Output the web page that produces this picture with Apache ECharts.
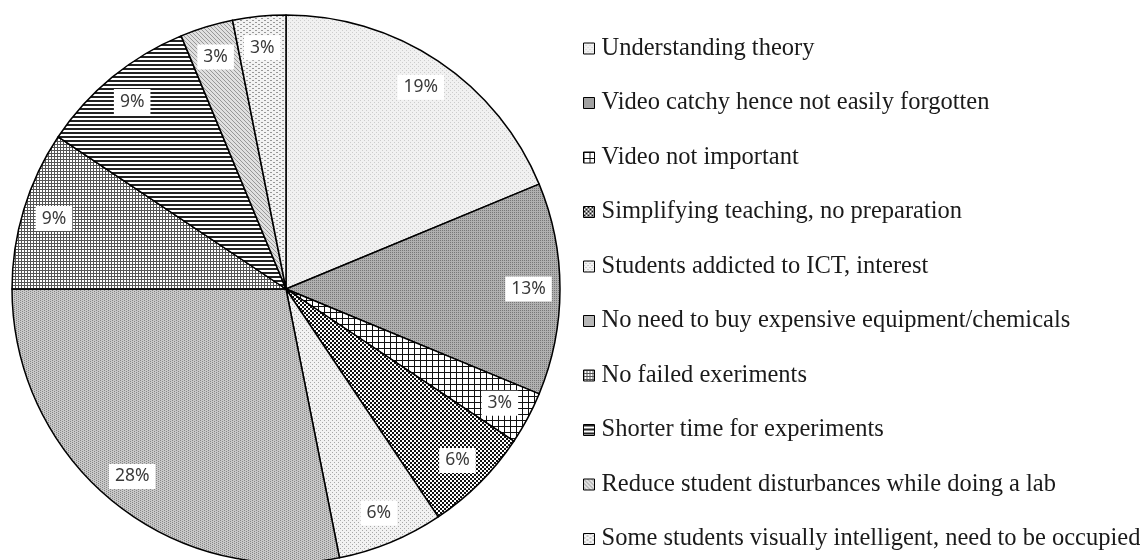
<!DOCTYPE html>
<html>
<head>
<meta charset="utf-8">
<script src="https://cdn.jsdelivr.net/npm/echarts@6/dist/echarts.min.js"></script>
<style>
  html, body { margin: 0; padding: 0; background: #fff; }
  #chart { width: 1140px; height: 560px; }
</style>
</head>
<body>
<div id="chart"></div>
<script>
// answers (counts of respondents, 32 in total)
var categories = [
    'Understanding theory',
    'Video catchy hence not easily forgotten',
    'Video not important',
    'Simplifying teaching, no preparation',
    'Students addicted to ICT, interest',
    'No need to buy expensive equipment/chemicals',
    'No failed exeriments',
    'Shorter time for experiments',
    'Reduce student disturbances while doing a lab',
    'Some students visually intelligent, need to be occupied'
];
var counts = [6, 4, 1, 2, 2, 9, 3, 3, 1, 1];

var total = counts.reduce(function(a, b) { return a + b; }, 0);

// small canvas tiles used as fill patterns (the original is grayscale hatched)
function tile(w, h, bg, draw) {
    var c = document.createElement('canvas');
    c.width = w;
    c.height = h;
    var g = c.getContext('2d');
    g.fillStyle = bg;
    g.fillRect(0, 0, w, h);
    draw(g);
    return { image: c, repeat: 'repeat' };
}
function px(g, col, pts) {
    g.fillStyle = col;
    pts.forEach(function(p) { g.fillRect(p[0], p[1], p[2] || 1, p[3] || 1); });
}

var patterns = [
    tile(4, 4, '#f1f1f1', function(g) { px(g, '#cccccc', [[0, 0], [2, 2]]); }),
    tile(2, 2, '#b0b0b0', function(g) { px(g, '#777777', [[0, 0]]); }),
    tile(6, 6, '#ffffff', function(g) { px(g, '#111', [[0, 0, 6, 1], [0, 0, 1, 6]]); }),
    tile(4, 4, '#ffffff', function(g) { px(g, '#111', [[0, 0, 2, 2], [2, 2, 2, 2]]); }),
    tile(4, 4, '#f2f2f2', function(g) { px(g, '#a8a8a8', [[0, 0], [2, 2]]); }),
    tile(4, 2, '#c8c8c8', function(g) { px(g, '#868686', [[0, 0], [2, 1]]); }),
    tile(3, 3, '#ffffff', function(g) { px(g, '#555', [[0, 0, 3, 1], [0, 0, 1, 3]]); }),
    tile(4, 4, '#ffffff', function(g) { px(g, '#222', [[0, 0, 4, 2]]); }),
    tile(4, 4, '#e0e0e0', function(g) { px(g, '#989898', [[0, 0], [1, 1], [2, 2], [3, 3]]); }),
    tile(6, 4, '#f3f3f3', function(g) { px(g, '#999', [[0, 0, 2, 1], [3, 2, 2, 1]]); })
];

var pieData = categories.map(function(name, i) {
    return { name: name, value: counts[i], itemStyle: { color: patterns[i] } };
});
var labelData = categories.map(function(name, i) {
    return { name: name, value: counts[i] };
});

var myChart = echarts.init(document.getElementById('chart'));

var option = {
    animation: false,
    legend: {
        orient: 'vertical',
        left: 583,
        top: 36,
        padding: 0,
        icon: 'rect',
        itemWidth: 11,
        itemHeight: 11,
        itemGap: 29.5,
        itemStyle: { borderColor: '#000', borderWidth: 1 },
        textStyle: {
            fontFamily: 'Liberation Serif',
            fontSize: 24.5,
            color: '#1a1a1a',
            padding: [0, 0, 0, 2]
        },
        selectedMode: false,
        data: categories
    },
    series: [{
        type: 'pie',
        center: [286, 289],
        radius: [0, 274],
        startAngle: 90,
        silent: true,
        label: { show: false },
        labelLine: { show: false },
        itemStyle: { borderColor: '#000', borderWidth: 1.5 },
        data: pieData
    }, {
        // invisible ring only for placing the percentage labels
        type: 'pie',
        center: [286, 289],
        radius: [205, 274],
        startAngle: 90,
        silent: true,
        avoidLabelOverlap: false,
        itemStyle: { color: 'rgba(0,0,0,0)', borderWidth: 0 },
        label: {
            show: true,
            position: 'inside',
            formatter: function(p) {
                return Math.round(p.value / total * 100) + '%';
            },
            fontFamily: 'Noto Sans',
            fontSize: 17.5,
            color: '#3a3a3a',
            backgroundColor: '#fff',
            padding: [4, 6, 3, 6]
        },
        labelLine: { show: false },
        data: labelData
    }]
};

myChart.setOption(option);
</script>
</body>
</html>
